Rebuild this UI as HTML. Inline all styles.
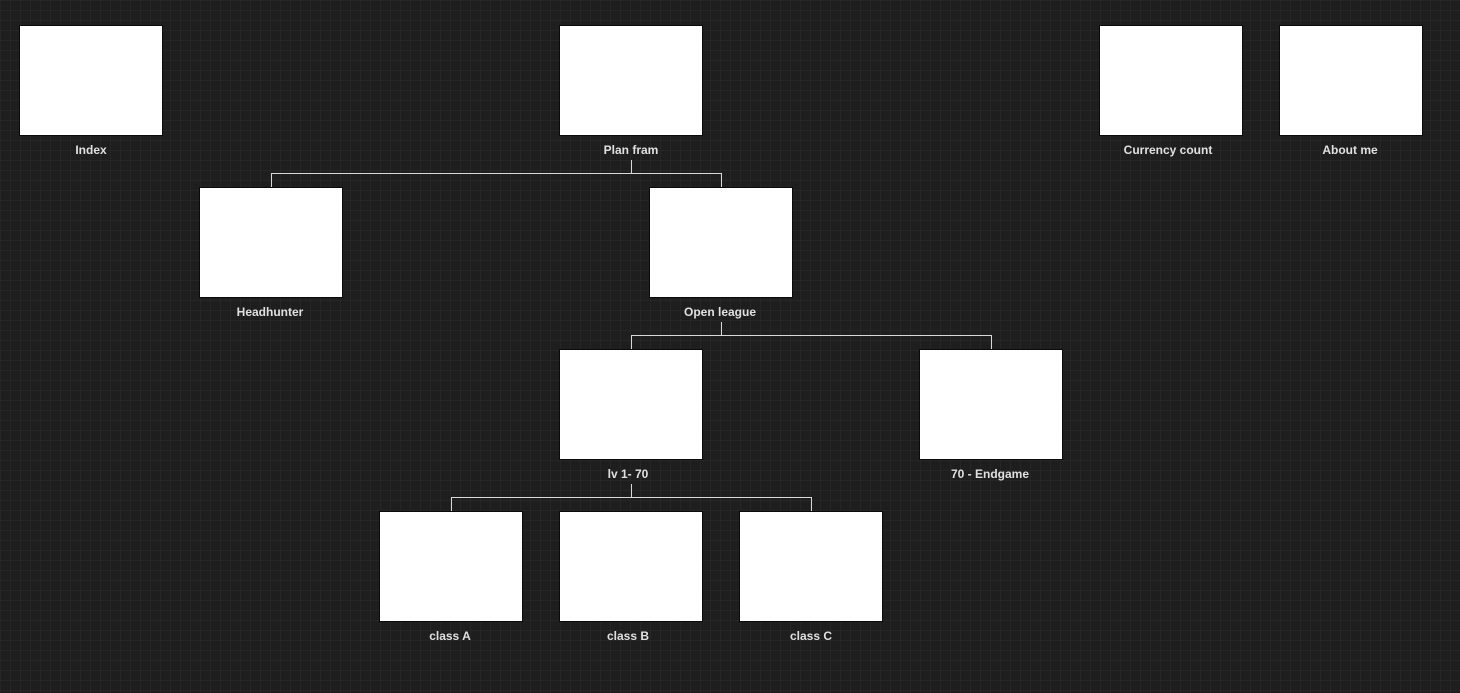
<!DOCTYPE html>
<html><head><meta charset="utf-8"><style>
html,body{margin:0;padding:0}
body{width:1460px;height:693px;overflow:hidden;position:relative;background-color:#1e1e1e;
background-image:linear-gradient(#262626 1px,transparent 1px),linear-gradient(90deg,#262626 1px,transparent 1px);
background-size:10px 10px;font-family:"Liberation Sans",sans-serif}
.b{position:absolute;width:142px;height:109px;background:#fff;border:1px solid #0a0a0a}
.l{position:absolute;width:200px;text-align:center;color:#e0e0e0;font-weight:bold;font-size:12px;line-height:14px}
svg{position:absolute;left:0;top:0}
</style></head><body>
<svg width="1460" height="693"><g stroke="#d8d8d8" stroke-width="1" fill="none" shape-rendering="crispEdges">
<path d="M631.5 160V173.5M271.5 187V173.5H721.5V187"/>
<path d="M721.5 322V335.5M631.5 349V335.5H991.5V349"/>
<path d="M631.5 484V497.5M451.5 511V497.5H811.5V511"/>
</g></svg>
<div class="b" style="left:19px;top:25px"></div><div class="l" style="left:-9px;top:143px">Index</div>
<div class="b" style="left:559px;top:25px"></div><div class="l" style="left:531px;top:143px">Plan fram</div>
<div class="b" style="left:1099px;top:25px"></div><div class="l" style="left:1068px;top:143px">Currency count</div>
<div class="b" style="left:1279px;top:25px"></div><div class="l" style="left:1250px;top:143px">About me</div>
<div class="b" style="left:199px;top:187px"></div><div class="l" style="left:170px;top:305px">Headhunter</div>
<div class="b" style="left:649px;top:187px"></div><div class="l" style="left:620px;top:305px">Open league</div>
<div class="b" style="left:559px;top:349px"></div><div class="l" style="left:528px;top:467px">lv 1- 70</div>
<div class="b" style="left:919px;top:349px"></div><div class="l" style="left:890px;top:467px">70 - Endgame</div>
<div class="b" style="left:379px;top:511px"></div><div class="l" style="left:350px;top:629px">class A</div>
<div class="b" style="left:559px;top:511px"></div><div class="l" style="left:528px;top:629px">class B</div>
<div class="b" style="left:739px;top:511px"></div><div class="l" style="left:711px;top:629px">class C</div>
</body></html>
